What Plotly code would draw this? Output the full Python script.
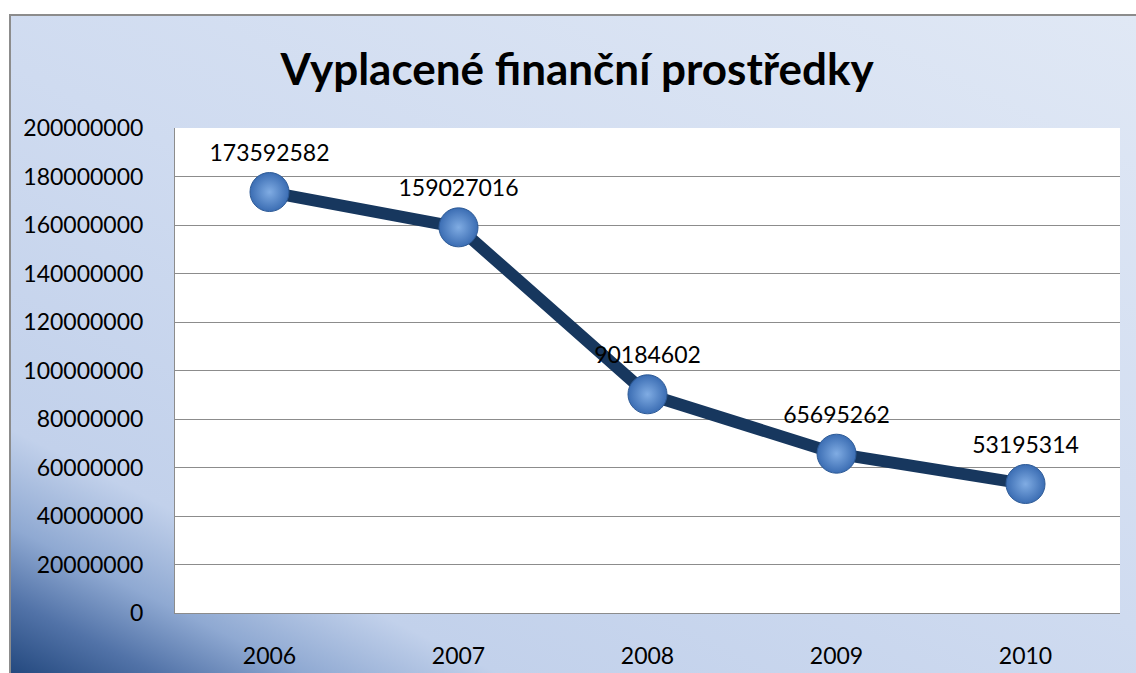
import urllib.parse
import plotly.graph_objects as go

# ─────────────────────────────────────────────
# DATA
# ─────────────────────────────────────────────
years = ["2006", "2007", "2008", "2009", "2010"]
paid_out = [173592582, 159027016, 90184602, 65695262, 53195314]
y_ticks = list(range(0, 200000001, 20000000))

title_text = "Vyplacené finanční prostředky"

# ─────────────────────────────────────────────
# LAYOUT GEOMETRY (pixels)
# ─────────────────────────────────────────────
W, H = 1136, 673
ML, MR, MT, MB = 175, 16, 128, 60
PW, PH = W - ML - MR, H - MT - MB


def px_to_paper_x(px):
    return (px - ML) / PW


def px_to_paper_y(py):
    return (H - MB - py) / PH


# gradient background of the chart box (Excel style, dark in lower-left corner)
# it runs a bit past the right/bottom edge, like the cropped original
BX, BY = 11, 16
BG_W, BG_H = W - BX + 30, H - BY + 30
G_H = H - BY  # visible height, used to pin the dark corner
bg_svg = f"""<svg xmlns='http://www.w3.org/2000/svg' width='{BG_W}' height='{BG_H}' preserveAspectRatio='none'>
<defs>
<linearGradient id='g' gradientUnits='userSpaceOnUse' x1='0' y1='{G_H}' x2='487' y2='{G_H - 974}'>
<stop offset='0' stop-color='#24497f'/>
<stop offset='0.06' stop-color='#5273a8'/>
<stop offset='0.12' stop-color='#8fa9d2'/>
<stop offset='0.2' stop-color='#c2d1eb'/>
<stop offset='0.5' stop-color='#cfdbf0'/>
<stop offset='1' stop-color='#e0e8f5'/>
</linearGradient>
</defs>
<rect width='{BG_W}' height='{BG_H}' fill='url(#g)'/>
</svg>"""
bg_uri = "data:image/svg+xml;charset=utf-8," + urllib.parse.quote(bg_svg)

fig = go.Figure()

fig.add_trace(go.Scatter(
    x=years,
    y=paid_out,
    mode="lines+markers+text",
    line=dict(color="#17375e", width=12),
    marker=dict(
        size=39,
        color="#3b6db3",
        line=dict(color="#2d5a96", width=1),
        gradient=dict(type="radial", color="#80ace3"),
    ),
    text=[str(v) for v in paid_out],
    textposition="top center",
    textfont=dict(family="Lato", size=23, color="#000000"),
    cliponaxis=False,
    hoverinfo="x+y",
))

fig.update_layout(
    width=W,
    height=H,
    margin=dict(l=ML, r=MR, t=MT, b=MB, autoexpand=False),
    paper_bgcolor="white",
    plot_bgcolor="white",
    showlegend=False,
    font=dict(family="Lato", size=22, color="#000000"),
    title=dict(
        text="<b>" + title_text + "</b>",
        x=0.508,
        xanchor="center",
        y=1 - 70 / H,
        yanchor="middle",
        font=dict(family="Lato", size=44, color="#000000"),
    ),
    xaxis=dict(
        type="category",
        range=[-0.5, 4.5],
        automargin=False,
        showgrid=False,
        showline=True,
        linecolor="#8c8c8c",
        linewidth=1,
        ticks="",
        ticklabelstandoff=22,
        tickfont=dict(family="Lato", size=23),
        zeroline=False,
    ),
    yaxis=dict(
        range=[0, 200000000],
        automargin=False,
        tickvals=y_ticks,
        ticktext=[str(v) for v in y_ticks],
        showgrid=True,
        gridcolor="#8c8c8c",
        gridwidth=1,
        showline=True,
        linecolor="#8c8c8c",
        linewidth=1,
        ticks="",
        ticklabelstandoff=26,
        tickfont=dict(family="Lato", size=23),
        zeroline=False,
    ),
    images=[dict(
        source=bg_uri,
        xref="paper", yref="paper",
        x=px_to_paper_x(BX), y=px_to_paper_y(BY),
        sizex=BG_W / PW, sizey=BG_H / PH,
        xanchor="left", yanchor="top",
        sizing="stretch",
        layer="below",
    )],
    shapes=[
        # white plot area on top of the gradient
        dict(type="rect", xref="paper", yref="paper", x0=0, y0=0, x1=1, y1=1,
             fillcolor="white", line=dict(width=0), layer="below"),
        # outer chart border (continues past the right/bottom edge)
        dict(type="rect", xref="paper", yref="paper",
             x0=px_to_paper_x(BX - 1), y0=px_to_paper_y(BY - 1),
             x1=px_to_paper_x(W + 20), y1=px_to_paper_y(H + 20),
             fillcolor="rgba(0,0,0,0)", line=dict(color="#8c8c8c", width=2),
             layer="below"),
    ],
)

# drop the browser's default 8px body margin so the figure sits at (0, 0)
fig.write_html(
    "out.html",
    config={"displayModeBar": False},
    post_script="document.body.style.margin='0';document.body.style.overflow='hidden';",
)
